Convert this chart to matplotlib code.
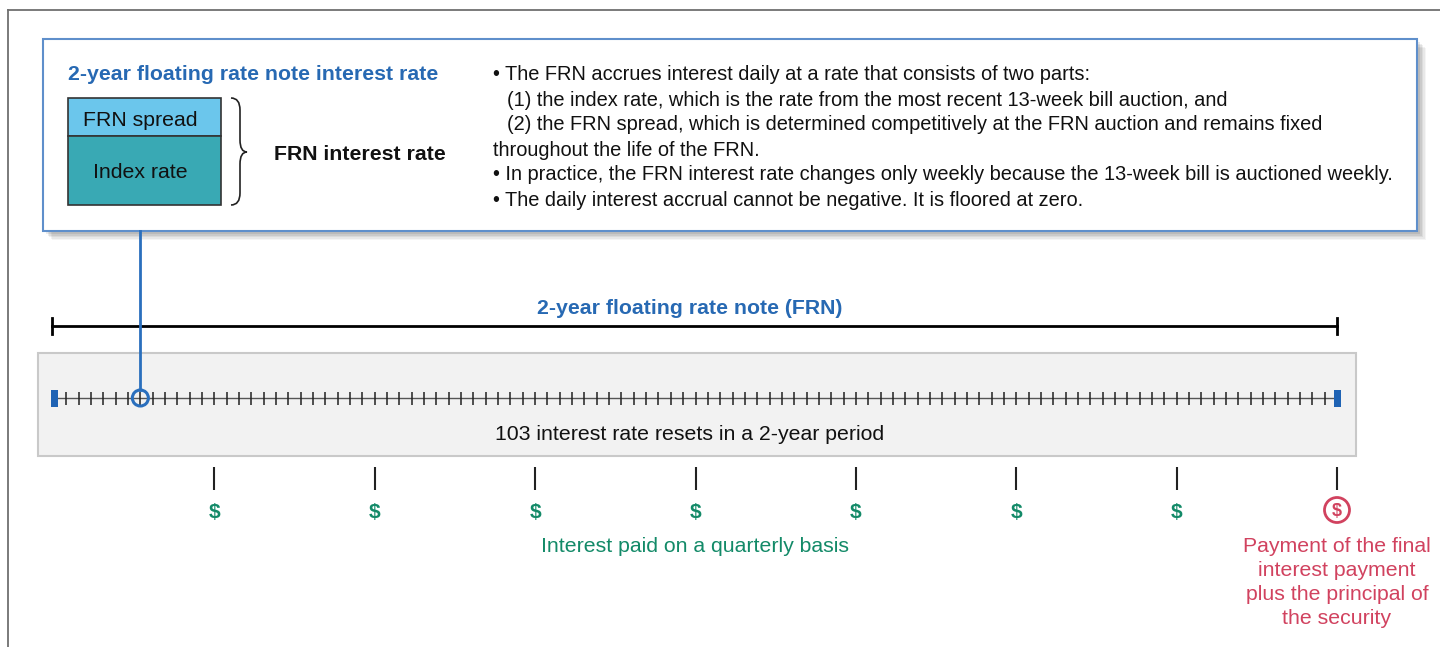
import numpy as np
import matplotlib
matplotlib.use("Agg")
import matplotlib.pyplot as plt
from matplotlib.patches import Rectangle, Circle, PathPatch
from matplotlib.path import Path

plt.rcParams['font.family'] = ['Liberation Sans', 'DejaVu Sans']

# ---- data ----
n_weeks = 104                      # 2 years of weekly resets
reset_weeks = np.arange(1, n_weeks)  # 103 interest rate resets
highlight_week = 7
quarter_weeks = np.arange(1, 9) * 13
box_title = "2-year floating rate note interest rate"
stack_labels = ["FRN spread", "Index rate"]
brace_label = "FRN interest rate"
bullets = [
    "\u2022 The FRN accrues interest daily at a rate that consists of two parts:",
    "(1) the index rate, which is the rate from the most recent 13-week bill auction, and",
    "(2) the FRN spread, which is determined competitively at the FRN auction and remains fixed",
    "throughout the life of the FRN.",
    "\u2022 In practice, the FRN interest rate changes only weekly because the 13-week bill is auctioned weekly.",
    "\u2022 The daily interest accrual cannot be negative. It is floored at zero.",
]
bullet_indent = [0, 14, 14, 0, 0, 0]
frn_title = "2-year floating rate note (FRN)"
resets_label = "103 interest rate resets in a 2-year period"
quarterly_label = "Interest paid on a quarterly basis"
final_lines = ["Payment of the final", "interest payment",
               "plus the principal of", "the security"]

BLUE = "#2769b3"
GREEN = "#138a68"
RED = "#d1425f"
FS = 15.3

fig = plt.figure(figsize=(14.4, 6.47), dpi=100)
ax = fig.add_axes([0, 0, 1, 1])
ax.set_xlim(0, 1440)
ax.set_ylim(647, 0)
ax.axis('off')

# week -> pixel
x0, x1 = 54, 1337
def wx(w):
    return x0 + (x1 - x0) * np.asarray(w) / n_weeks

# outer frame (top + left only)
ax.plot([8, 1440], [10, 10], color="#707070", lw=1.3)
ax.plot([8, 8], [10, 647], color="#707070", lw=1.3)

# top box shadow + box
for i, a in enumerate([0.04, 0.05, 0.06, 0.07, 0.08]):
    off = 9 - i * 1.5
    ax.add_patch(Rectangle((43 + off, 39 + off), 1374, 192, fc="#000000", ec="none", alpha=a, zorder=1))
ax.add_patch(Rectangle((43, 39), 1374, 192, fc="white", ec="#5f8fcb", lw=1.5, zorder=2))

ax.text(68, 72, box_title, color=BLUE, fontsize=FS, fontweight='bold', va='center_baseline', ha='left', zorder=3)

# stacked rate box
ax.add_patch(Rectangle((68, 98), 153, 38, fc="#6bc6ec", ec="#333333", lw=1.2, zorder=3))
ax.add_patch(Rectangle((68, 136), 153, 69, fc="#39a9b4", ec="#333333", lw=1.2, zorder=3))
ax.text(140, 118, stack_labels[0], fontsize=FS, ha='center', va='center_baseline', color="#111111", zorder=4)
ax.text(140, 171, stack_labels[1], fontsize=FS, ha='center', va='center_baseline', color="#111111", zorder=4)

# curly brace
bx, top, bot, tip = 231, 98, 205, 152
verts = [(bx, top), (bx + 9, top), (bx + 9, top + 12),
         (bx + 9, tip - 12), (bx + 9, tip), (bx + 16, tip),
         (bx + 9, tip), (bx + 9, tip + 12), (bx + 9, bot - 12),
         (bx + 9, bot), (bx, bot)]
codes = [Path.MOVETO, Path.CURVE3, Path.CURVE3, Path.LINETO, Path.CURVE3, Path.CURVE3,
         Path.CURVE3, Path.CURVE3, Path.LINETO, Path.CURVE3, Path.CURVE3]
ax.add_patch(PathPatch(Path(verts, codes), fc='none', ec="#222222", lw=1.2, zorder=3))
ax.text(274, 153, brace_label, fontsize=FS, fontweight='bold', va='center_baseline', ha='left', color="#111111", zorder=3)

for i, line in enumerate(bullets):
    ax.text(493 + bullet_indent[i], 73 + i * 25, line, fontsize=14.4,
            va='center_baseline', ha='left', color="#111111", zorder=3)

# FRN span bracket
ax.text(690, 306, frn_title, color=BLUE, fontsize=FS, fontweight='bold', ha='center', va='center_baseline')
ax.plot([x0 - 2, x1], [326, 326], color="black", lw=2)
for xe in (x0 - 2, x1):
    ax.plot([xe, xe], [318, 334], color="black", lw=2)

# gray panel with timeline
ax.add_patch(Rectangle((38, 353), 1318, 103, fc="#f2f2f2", ec="#c9c9c9", lw=1.5, zorder=1))
ax.plot(wx([0, n_weeks]), [398, 398], color="#555555", lw=1, zorder=2)
ax.vlines(wx(reset_weeks), 392, 405, color="#222222", lw=1.1, zorder=2)
for w in (0, n_weeks):
    ax.add_patch(Rectangle((wx(w) - 3.5, 390), 7, 17, fc="#1f63b4", ec="none", zorder=3))

# connector to the highlighted reset
hx = wx(highlight_week)
ax.plot([hx, hx], [231, 390], color="#2a6fbd", lw=2, zorder=3)
ax.add_patch(Circle((hx, 398), 8, fc='none', ec="#2a6fbd", lw=2.2, zorder=4))

ax.text(690, 433, resets_label, fontsize=FS, ha='center', va='center_baseline', color="#111111", zorder=3)

# quarterly payments
qx = wx(quarter_weeks)
ax.vlines(qx, 467, 490, color="#222222", lw=1.5)
for x in qx[:-1]:
    ax.text(x, 510, "$", color=GREEN, fontsize=15, fontweight='bold', ha='center', va='center_baseline')
ax.add_patch(Circle((qx[-1], 510), 12.5, fc='none', ec=RED, lw=2))
ax.text(qx[-1], 510, "$", color=RED, fontsize=13, fontweight='bold', ha='center', va='center_baseline')

ax.text(695, 545, quarterly_label, color=GREEN, fontsize=FS, ha='center', va='center_baseline')
for i, line in enumerate(final_lines):
    ax.text(qx[-1], 545 + i * 24, line, color=RED, fontsize=FS, ha='center', va='center_baseline')

fig.savefig("out.png", dpi=100)
